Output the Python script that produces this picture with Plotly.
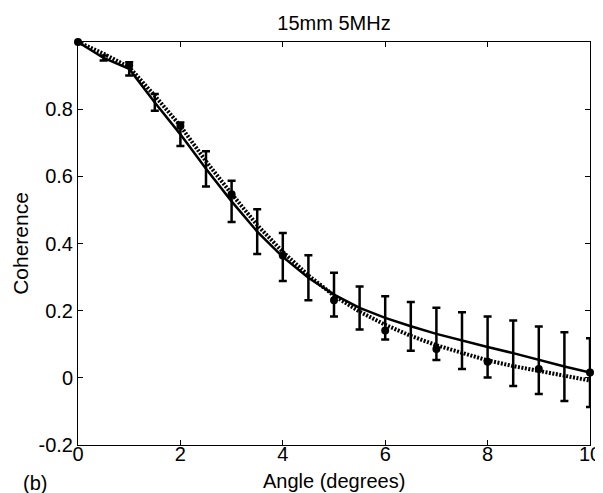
import plotly.graph_objects as go

# Angles (degrees) at which the mean curve / error bars are sampled
angles = [0, 0.5, 1, 1.5, 2, 2.5, 3, 3.5, 4, 4.5, 5, 5.5, 6, 6.5, 7, 7.5, 8, 8.5, 9, 9.5, 10]
# Mean coherence (solid line) and its standard deviation (error bars)
mean_coh = [1.0, 0.9525, 0.92, 0.82, 0.725, 0.6225, 0.5255, 0.4355, 0.36, 0.298, 0.248,
            0.208, 0.1785, 0.1535, 0.131, 0.1105, 0.092, 0.0735, 0.0525, 0.0335, 0.0155]
std_coh = [0.0, 0.0075, 0.02, 0.025, 0.035, 0.0525, 0.0615, 0.0665, 0.0715, 0.067, 0.065,
           0.064, 0.0645, 0.0725, 0.078, 0.0845, 0.091, 0.0975, 0.1005, 0.1025, 0.1025]
# Theoretical curve (dotted line)
theory_coh = [1.0, 0.965, 0.925, 0.84, 0.75, 0.645, 0.548, 0.455, 0.375, 0.305, 0.245,
              0.197, 0.158, 0.125, 0.097, 0.073, 0.052, 0.035, 0.02, 0.005, -0.008]
# Measured points at integer angles
pt_angles = [0, 1, 2, 3, 4, 5, 6, 7, 8, 9, 10]
pt_coh = [1.0, 0.93, 0.75, 0.547, 0.364, 0.231, 0.141, 0.086, 0.048, 0.026, 0.016]

xticks = [0, 2, 4, 6, 8, 10]
yticks = [-0.2, 0, 0.2, 0.4, 0.6, 0.8]
yticktext = ["-0.2", "0", "0.2", "0.4", "0.6", "0.8"]

FONT = "Liberation Sans, Arial, sans-serif"
FS = 20

fig = go.Figure()
fig.add_trace(go.Scatter(
    x=angles, y=mean_coh, mode="lines",
    line=dict(color="black", width=2.5),
    error_y=dict(type="data", array=std_coh, visible=True, color="black",
                 thickness=2.5, width=4),
    showlegend=False,
))
fig.add_trace(go.Scatter(
    x=angles, y=theory_coh, mode="lines",
    line=dict(color="black", width=4, dash="2px,1.5px"),
    showlegend=False,
))
fig.add_trace(go.Scatter(
    x=pt_angles, y=pt_coh, mode="markers",
    marker=dict(color="black", size=8),
    cliponaxis=False,
    showlegend=False,
))

axis_common = dict(
    showgrid=False, zeroline=False, showline=True, mirror="ticks",
    linecolor="black", linewidth=1, ticks="inside", ticklen=5,
    tickcolor="black", tickwidth=1, automargin=False,
    tickfont=dict(family=FONT, size=FS, color="black"),
)

fig.update_layout(
    width=603, height=493,
    margin=dict(l=70, r=21, t=34, b=56),
    paper_bgcolor="white", plot_bgcolor="white",
    font=dict(family=FONT, size=FS, color="black"),
    title=dict(text="15mm 5MHz", x=(326 - 70) / 512, xref="paper", xanchor="center",
               y=1 - 15 / 493, yref="container", yanchor="middle",
               font=dict(family=FONT, size=FS, color="black")),
    xaxis=dict(range=[0, 10], tickvals=xticks, ticklabelstandoff=-9,
               **axis_common),
    yaxis=dict(range=[-0.2, 1.0], tickvals=yticks, ticktext=yticktext,
               ticklabelstandoff=0,
               title=dict(text="Coherence", standoff=4,
                          font=dict(family=FONT, size=21, color="black")),
               **axis_common),
    annotations=[
        dict(text="Angle (degrees)", xref="paper", yref="paper", x=(326 - 70) / 512,
             y=(437 - 473) / 403, xanchor="center", yanchor="middle", showarrow=False,
             font=dict(family=FONT, size=FS, color="black")),
        dict(text="(b)", xref="paper", yref="paper", x=(27 - 70) / 512,
             y=(437 - 475) / 403,
             xanchor="center", yanchor="middle", showarrow=False,
             font=dict(family=FONT, size=FS, color="black")),
    ],
)

fig.write_html("out.html")
